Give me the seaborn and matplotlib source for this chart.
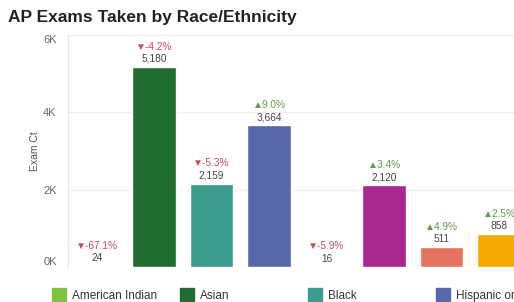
import pandas as pd
import matplotlib.pyplot as plt
import seaborn as sns
from matplotlib.patches import Rectangle

# data
groups = ['American Indian', 'Asian', 'Black', 'Hispanic or Latino',
          'Native Hawaiian or Pacific Islander', 'Two or More Races',
          'Other', 'White']
exams = [24, 5180, 2159, 3664, 16, 2120, 511, 858]
pct_change = [-67.1, -4.2, -5.3, 9.0, -5.9, 3.4, 4.9, 2.5]
colors = ['#7cc243', '#1f6e2f', '#3a9c8c', '#5668a8',
          '#b598cc', '#ab2790', '#e5735f', '#f4aa00']
y_ticks = [0, 2000, 4000, 6000]
y_tick_labels = ['0K', '2K', '4K', '6K']

df = pd.DataFrame({'group': groups, 'exams': exams})

sns.set_style('white')
plt.rcParams['font.family'] = ['Liberation Sans', 'DejaVu Sans']

fig = plt.figure(figsize=(5.14, 3.02), dpi=100)
ax = fig.add_axes([0.132, 0.116, 0.895, 0.768])

sns.barplot(data=df, x='group', y='exams', hue='group', palette=colors,
            width=0.76, legend=False, ax=ax, saturation=1)

ax.set_xlim(-0.5, len(groups) - 0.5)
ax.set_ylim(0, 6000)
ax.set_yticks(y_ticks)
ax.set_yticklabels(y_tick_labels, fontsize=8, color='#666666')
ax.tick_params(axis='y', length=0, pad=8)
# first and last tick labels sit inside the plot range, like the original
labels = ax.get_yticklabels()
labels[0].set_va('bottom')
labels[-1].set_va('top')
ax.set_xticks([])
ax.set_xlabel('')
ax.set_ylabel('Exam Ct', fontsize=7.5, color='#555555', labelpad=2)
ax.yaxis.grid(True, color='#ececec', linewidth=0.8)
ax.set_axisbelow(True)
for side in ['top', 'right', 'bottom']:
    ax.spines[side].set_visible(False)
ax.spines['left'].set_color('#e6e6e6')

# value and change labels above each bar
for container, val, pct in zip(ax.containers, exams, pct_change):
    bar = container.patches[0]
    cx = bar.get_x() + bar.get_width() / 2
    top = bar.get_height()
    ax.annotate(f'{val:,}', (cx, top), xytext=(0, 2), textcoords='offset points',
                ha='center', va='bottom', fontsize=7.3, color='#444444')
    if pct < 0:
        txt, col = f'\u25bc{pct:.1f}%', '#c44c5c'
    else:
        txt, col = f'\u25b2{pct:.1f}%', '#5f9b4e'
    ax.annotate(txt, (cx, top), xytext=(0, 11), textcoords='offset points',
                ha='center', va='bottom', fontsize=7.3, color=col)

fig.text(0.016, 0.943, 'AP Exams Taken by Race/Ethnicity', fontsize=12.5,
         fontweight='bold', color='#222222', va='center', ha='left')

# legend row along the bottom, partly cut off like the original
for i, (name, c) in enumerate(zip(groups, colors)):
    x0 = 52 + i * 128
    fig.patches.append(Rectangle((x0 / 514, 1 / 302), 14 / 514, 13 / 302,
                                 transform=fig.transFigure, color=c))
    fig.text((x0 + 20) / 514, 6 / 302, name, fontsize=8.5, color='#333333',
             va='center', ha='left')

fig.savefig('out.png', dpi=100)
